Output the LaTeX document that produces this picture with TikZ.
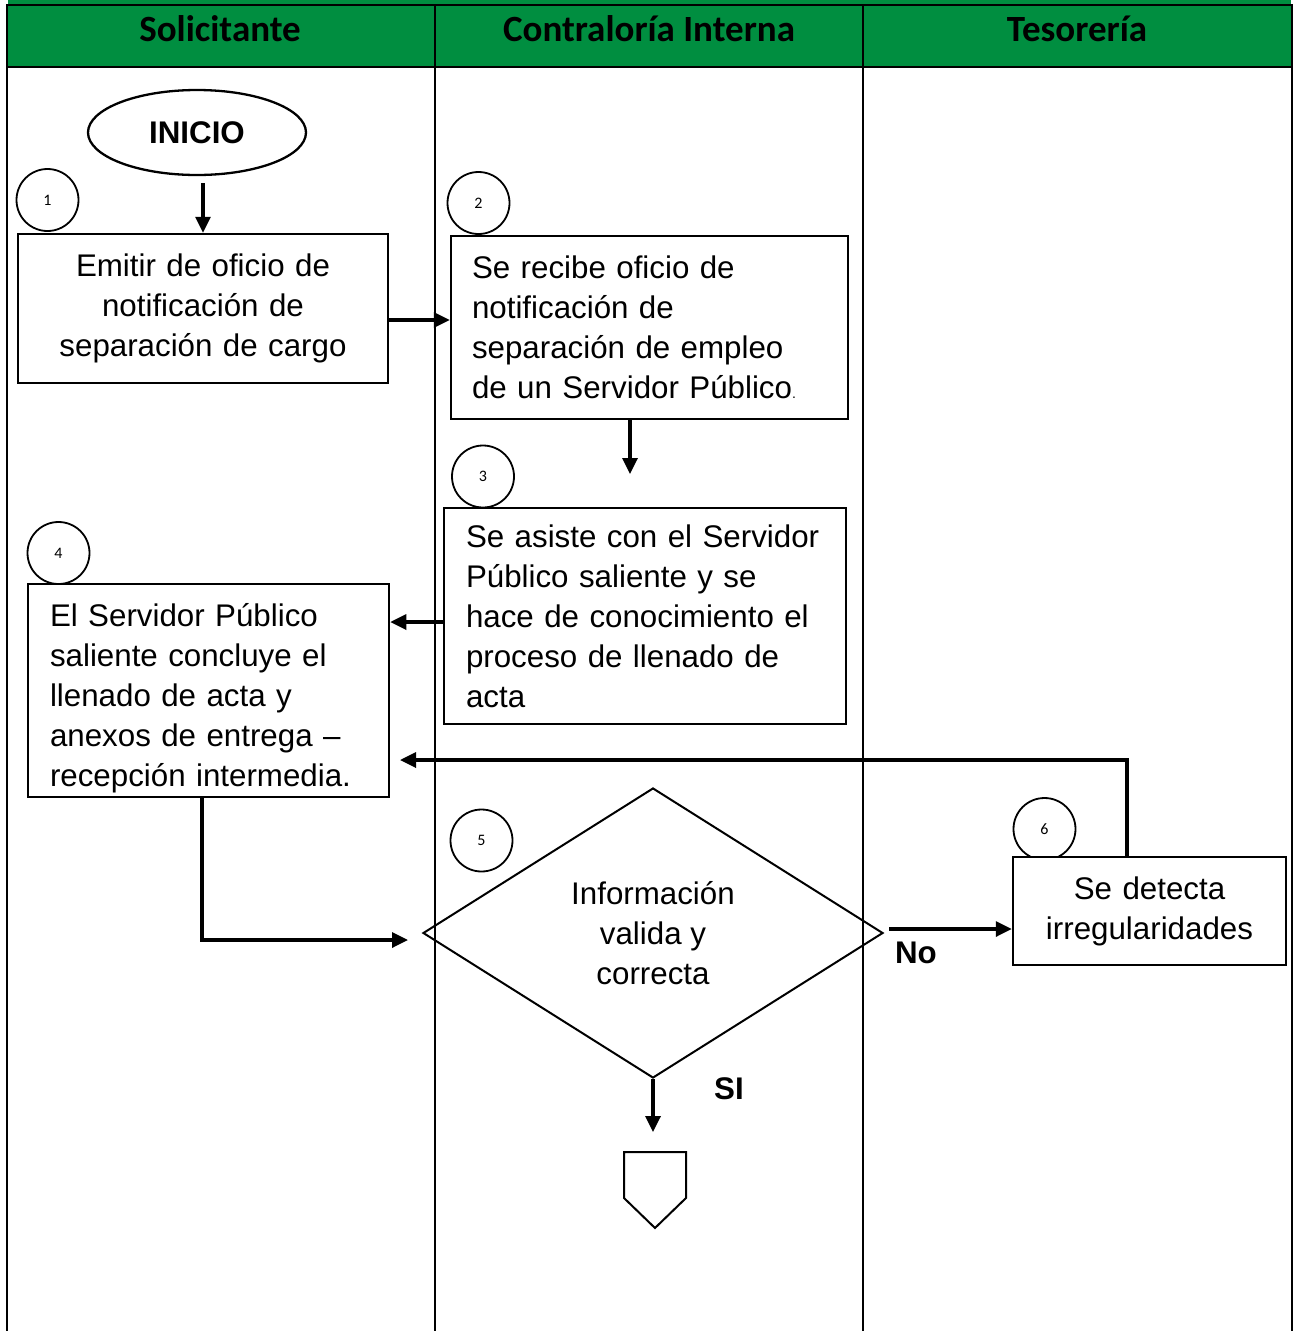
\documentclass[tikz,border=0pt]{standalone}
\usepackage{fontspec}
\setmainfont{Liberation Sans}
\newfontfamily\lanefont{Carlito}
\usetikzlibrary{arrows.meta,shapes.geometric}
\definecolor{lanegreen}{RGB}{0,142,64}
\begin{document}
\begin{tikzpicture}[x=1pt,y=-1pt,
  body/.style={font=\fontsize{31.3}{40}\selectfont},
  bodybold/.style={font=\fontsize{31.3}{40}\selectfont\bfseries},
  stepbox/.style={draw,line width=2.5pt,fill=white,body,inner ysep=0pt},
  num/.style={draw,circle,line width=1.8pt,minimum size=62pt,inner sep=0pt,
              fill=white,font=\lanefont\fontsize{16}{16}\selectfont},
  lanehead/.style={font=\lanefont\bfseries\fontsize{37}{40}\selectfont},
  arr/.style={line width=3.3pt,-{Triangle[length=16pt,width=15pt]}},
  lane/.style={line width=2.2pt}
]
% canvas
\fill[white] (0,0) rectangle (1295,1331);
\useasboundingbox (0,0) rectangle (1295,1331);

% swimlane header and lanes
\fill[lanegreen] (7.7,0) rectangle (1291,4);
\fill[lanegreen] (6.7,5) rectangle (1292,66.7);
\draw[lane] (6.7,5) -- (1292,5);
\draw[lane] (6.7,66.7) -- (1292,66.7);
\draw[lane] (6.7,4) -- (6.7,1331);
\draw[lane] (435,4) -- (435,1331);
\draw[lane] (863,4) -- (863,1331);
\draw[lane] (1292,4) -- (1292,1331);

\node[lanehead] (h1) at (220,29) {Solicitante};
\node[lanehead] (h2) at (649,29) {Contraloría Interna};
\node[lanehead] (h3) at (1077,29) {Tesorería};

% step numbers
\node[num] (n1) at (47.5,200) {1};
\node[num] (n2) at (478.5,203) {2};
\node[num] (n3) at (483,476.5) {3};
\node[num] (n4) at (58.5,553) {4};
\node[num] (n5) at (481.5,840.5) {5};
\node[num] (n6) at (1044.5,829) {6};

% start
\node[draw,ellipse,line width=2.3pt,minimum width=218pt,minimum height=85pt,
      inner sep=0pt,bodybold] (ini) at (197,132.5) {INICIO};

% steps
\node[stepbox,minimum width=370pt,minimum height=149pt,inner xsep=15pt,
      text width=340pt,align=center] (b1) at (203,308.5)
  {Emitir de oficio de\\notificación de\\separación de cargo};
\node[stepbox,minimum width=397pt,minimum height=183pt,inner xsep=21pt,
      text width=355pt,align=left] (b2) at (649.5,327.5)
  {Se recibe oficio de\\notificación de\\separación de empleo\\de un Servidor Público{\fontsize{14}{14}\selectfont.}};
\node[stepbox,minimum width=402pt,minimum height=216pt,inner xsep=22pt,
      text width=358pt,align=left] (b3) at (645,616)
  {Se asiste con el Servidor\\Público saliente y se\\hace de conocimiento el\\proceso de llenado de\\acta};
\node[stepbox,minimum width=361pt,minimum height=213pt,inner xsep=22pt,
      text width=317pt,align=left] (b4) at (208.5,690.5)
  {\rule{0pt}{39pt}El Servidor Público\\saliente concluye el\\llenado de acta y\\anexos de entrega –\\recepción intermedia.};
\node[stepbox,minimum width=273pt,minimum height=108pt,inner xsep=11.5pt,
      text width=250pt,align=center] (b6) at (1149.5,911)
  {Se detecta\\irregularidades};

% decision
\node[draw,diamond,line width=2pt,minimum width=460pt,minimum height=290pt,
      inner sep=0pt,body,align=center] (dec) at (653,933)
  {Información\\valida y\\correcta};

% off-page connector
\coordinate (pg) at (653,1132);
\draw[line width=2pt,line join=miter] (624,1152) -- (686,1152) -- (686,1198)
  -- (655,1228) -- (624,1198) -- cycle;

% branch labels
\node[bodybold] (lno) at (916,953) {No};
\node[bodybold] (lsi) at (729,1089) {SI};

% connectors
\draw[arr] ([yshift=-7pt]ini.south -| b1.north) -- (b1.north);
\draw[arr] ([yshift=-11.5pt]b1.east) -- ([yshift=-11.5pt]b1.east -| b2.west);
\coordinate (t3) at (630,474);
\draw[arr] (b2.south -| t3) -- (t3);
\draw[arr] ([yshift=-6pt]b3.west) -- ([yshift=-6pt]b3.west -| b4.east);
\coordinate (d1) at (202,940);
\coordinate (d2) at (408,940);
\draw[arr,line join=miter] (b4.south -| d1) -- (d1) -- (d2);
\draw[arr] (dec.south) -- (pg);
\coordinate (no1) at (889,929);
\draw[arr] (no1) -- (no1 -| b6.west);
\coordinate (r1) at (1127,760);
\coordinate (r2) at (400,760);
\draw[arr,line join=miter] (b6.north -| r1) -- (r1) -- (r2);
\end{tikzpicture}
\end{document}
